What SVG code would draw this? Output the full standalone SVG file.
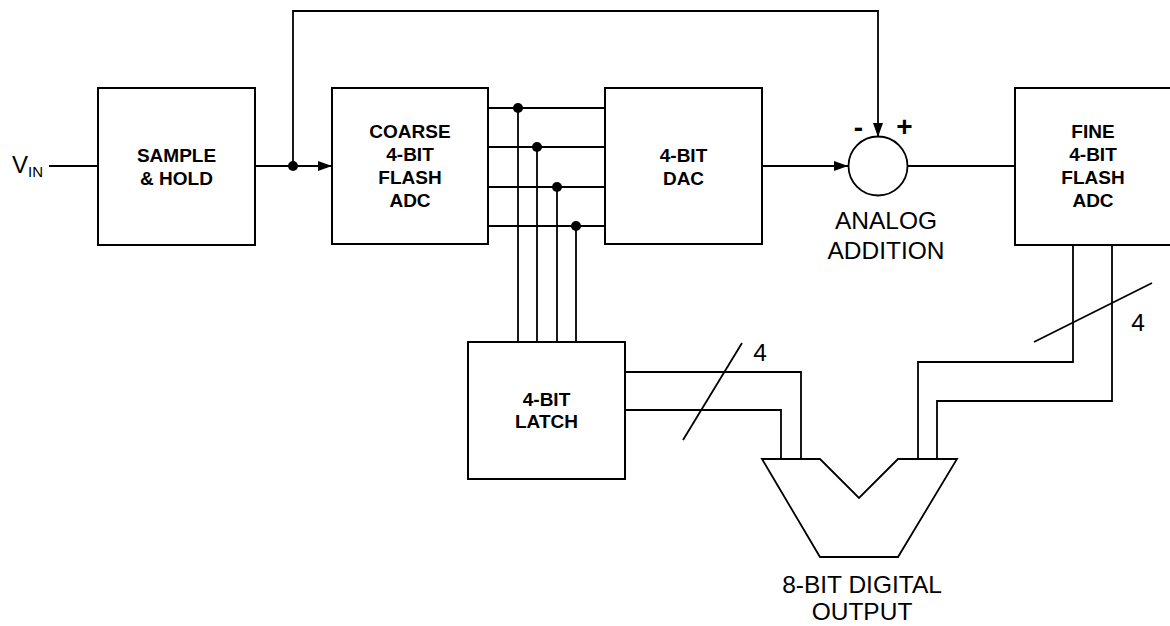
<svg xmlns="http://www.w3.org/2000/svg" width="1170" height="626" viewBox="0 0 1170 626">
<style>
.box{fill:#fff;stroke:#000;stroke-width:2}
.w{fill:none;stroke:#000;stroke-width:1.8}
.b{font-family:"Liberation Sans",Arial,sans-serif;font-weight:bold;font-size:19px;text-anchor:middle;fill:#000}
.t{font-family:"Liberation Sans",Arial,sans-serif;font-size:24.5px;text-anchor:middle;fill:#000}
.s{font-family:"Liberation Sans",Arial,sans-serif;font-weight:bold;font-size:28px;text-anchor:middle;fill:#000}
.dot{fill:#000}
</style>
<defs>
<marker id="ah" viewBox="0 0 14 10" refX="14" refY="5" markerWidth="14" markerHeight="10" markerUnits="userSpaceOnUse" orient="auto">
<path d="M0,0 L14,5 L0,10 Z" fill="#000"/>
</marker>
</defs>
<rect width="1170" height="626" fill="#fff"/>
<g id="connectors">
<path class="w" d="M49,166 H98"/>
<path class="w" d="M255,166 H332" marker-end="url(#ah)"/>
<path class="w" d="M293,166 V11 H878 V137" marker-end="url(#ah)"/>
<path class="w" d="M762,166 H848" marker-end="url(#ah)"/>
<path class="w" d="M908,166 H1015"/>
<path class="w" d="M488,108 H605 M488,147 H605 M488,187 H605 M488,226 H605"/>
<path class="w" d="M518,108 V342 M537,147 V342 M557,187 V342 M576,226 V342"/>
<circle class="dot" cx="293" cy="166" r="5"/>
<circle class="dot" cx="518" cy="108" r="5"/>
<circle class="dot" cx="537" cy="147" r="5"/>
<circle class="dot" cx="557" cy="187" r="5"/>
<circle class="dot" cx="576" cy="226" r="5"/>
<path class="w" d="M625,372 H801 V459 M625,410 H781 V459"/>
<path class="w" d="M683,440 L742,343"/>
<text class="t" x="760" y="361">4</text>
<path class="w" d="M1073,245 V362 H918 V459 M1112,245 V401 H937 V459"/>
<path class="w" d="M1034,342 L1152,283"/>
<text class="t" x="1138" y="331">4</text>
</g>
<g id="vin">
<text font-family="'Liberation Sans',Arial,sans-serif" font-size="24" x="12" y="173">V<tspan font-size="15" dy="4">IN</tspan></text>
</g>
<g id="sample-hold">
<rect class="box" x="98" y="88" width="157" height="157"/>
<text class="b" x="176.5" y="162">SAMPLE</text>
<text class="b" x="176.5" y="185">&amp; HOLD</text>
</g>
<g id="coarse-adc">
<rect class="box" x="332" y="88" width="156" height="156"/>
<text class="b" x="410" y="138">COARSE</text>
<text class="b" x="410" y="161">4-BIT</text>
<text class="b" x="410" y="184">FLASH</text>
<text class="b" x="410" y="207">ADC</text>
</g>
<g id="dac">
<rect class="box" x="605" y="88" width="157" height="156"/>
<text class="b" x="683.5" y="162">4-BIT</text>
<text class="b" x="683.5" y="185">DAC</text>
</g>
<g id="analog-addition">
<circle cx="878" cy="166" r="29.5" fill="#fff" stroke="#000" stroke-width="1.8"/>
<text class="s" x="858.5" y="137">-</text>
<text class="s" x="904.5" y="136">+</text>
<text class="t" x="886" y="229">ANALOG</text>
<text class="t" x="886" y="259">ADDITION</text>
</g>
<g id="fine-adc">
<rect class="box" x="1015" y="88" width="157" height="157"/>
<text class="b" x="1093" y="138">FINE</text>
<text class="b" x="1093" y="161">4-BIT</text>
<text class="b" x="1093" y="184">FLASH</text>
<text class="b" x="1093" y="207">ADC</text>
</g>
<g id="latch">
<rect class="box" x="468" y="342" width="157" height="137"/>
<text class="b" x="546.5" y="406">4-BIT</text>
<text class="b" x="546.5" y="428">LATCH</text>
</g>
<g id="adder">
<path d="M762,459 H820 L859,498 L898,459 H957 L898,557 H820 Z" fill="#fff" stroke="#000" stroke-width="1.8" stroke-linejoin="miter"/>
<text class="t" x="862" y="593">8-BIT DIGITAL</text>
<text class="t" x="862" y="620">OUTPUT</text>
</g>
</svg>
